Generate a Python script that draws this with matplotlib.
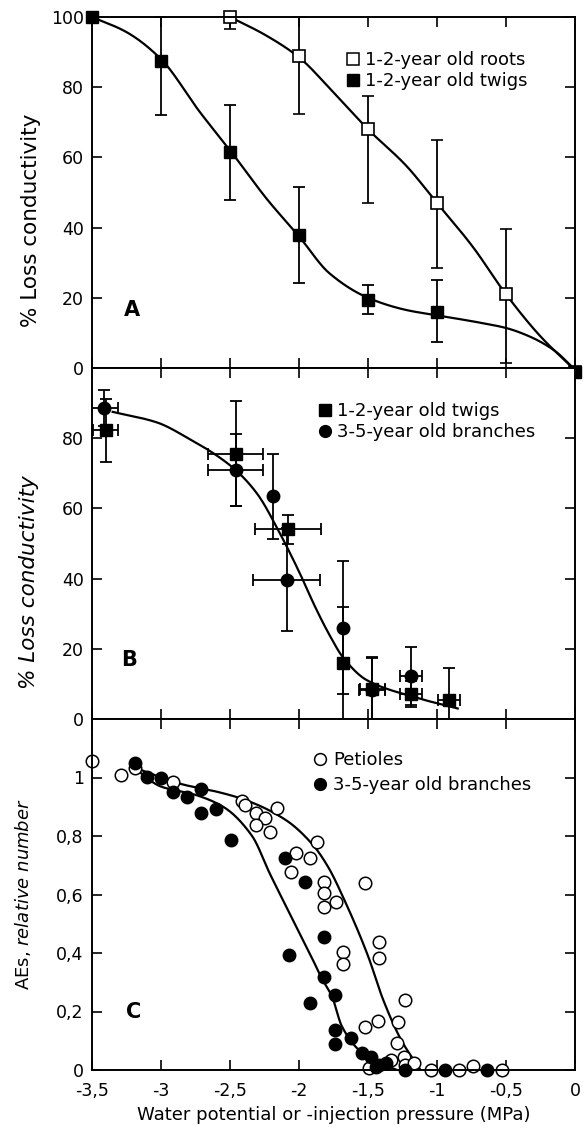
import numpy as np
import matplotlib
matplotlib.use("Agg")
import matplotlib.pyplot as plt
from matplotlib.lines import Line2D

plt.rcParams['font.family'] = ['DejaVu Sans']
plt.rcParams['mathtext.fontset'] = 'dejavusans'

# ---- panel A: 1-2-year old twigs / roots ----
twig_a_x = [-3.5, -3.0, -2.5, -2.0, -1.5, -1.0, 0.0]
twig_a_y = [100, 87.5, 61.5, 38, 19.5, 16, -1]
twig_a_lo = [0, 15.5, 13.5, 13.8, 4.2, 8.7, 0]
twig_a_hi = [0, 12.5, 13.5, 13.6, 4.1, 9.0, 0]

root_a_x = [-2.5, -2.0, -1.5, -1.0, -0.5, 0.0]
root_a_y = [100, 89, 68, 47, 21, -1]
root_a_lo = [3.4, 16.5, 21, 18.5, 19.5, 0]
root_a_hi = [0, 11, 9.5, 18, 18.5, 0]

# fitted curves
twig_fit_x = [-3.5, -3.25, -3.0, -2.72, -2.48, -2.23, -2.0, -1.78, -1.5, -1.22, -1.0, -0.7, -0.5, -0.33, -0.15, 0.0]
twig_fit_y = [100, 95.7, 88, 73, 61, 48, 37.5, 27, 20, 16.5, 15, 13, 11.4, 9, 5, -0.5]
root_fit_x = [-2.5, -2.25, -2.0, -1.75, -1.5, -1.22, -1.0, -0.74, -0.5, -0.25, 0.0]
root_fit_y = [100, 95, 88.5, 78.5, 68, 57.5, 47, 34.5, 21, 9, -0.6]

# ---- panel B: twigs vs branches ----
twig_b_x = [-3.40, -2.46, -2.08, -1.68, -1.47, -1.19, -0.91]
twig_b_y = [82.3, 75.6, 54, 16, 8.5, 7.1, 5.4]
twig_b_yerr = [9, 15, 4, 16, 9, 3.7, 9.2]
twig_b_xerr = [0.09, 0.2, 0.24, 0, 0.09, 0.08, 0.08]

branch_b_x = [-3.41, -2.46, -2.19, -2.09, -1.68, -1.47, -1.19]
branch_b_y = [88.6, 71, 63.4, 39.7, 26, 8.3, 12.3]
branch_b_yerr = [5, 10.3, 12, 14.6, 19, 9.5, 8.3]
branch_b_xerr = [0.1, 0.2, 0, 0.24, 0, 0.095, 0.08]

b_fit_x = [-3.35, -3.03, -2.79, -2.59, -2.45, -2.30, -2.14, -2.0, -1.88, -1.78, -1.68, -1.51, -1.17, -0.85]
b_fit_y = [87.5, 84.5, 79.7, 74.9, 70.6, 64, 53, 42, 31.7, 24, 17.5, 11.1, 6.3, 3.0]

# ---- panel C: acoustic emissions ----
pet_x = [-3.50, -3.29, -3.19, -2.91, -2.41, -2.39, -2.31, -2.25, -2.31, -2.16, -2.21,
         -2.02, -2.06, -1.87, -1.92, -1.82, -1.82, -1.82, -1.73, -1.52, -1.68, -1.68,
         -1.42, -1.42, -1.23, -1.43, -1.52, -1.28, -1.29, -1.24, -1.33, -1.23, -1.17,
         -1.04, -0.84, -0.74, -0.53, -1.49]
pet_y = [1.055, 1.010, 1.031, 0.983, 0.918, 0.905, 0.880, 0.860, 0.839, 0.896, 0.815,
         0.743, 0.678, 0.779, 0.726, 0.642, 0.606, 0.556, 0.575, 0.638, 0.402, 0.362,
         0.438, 0.383, 0.240, 0.166, 0.146, 0.164, 0.092, 0.045, 0.034, 0.017, 0.024,
         0.0, 0.0, 0.014, 0.0, 0.007]

br_x = [-3.19, -3.10, -3.00, -2.91, -2.81, -2.71, -2.71, -2.60, -2.49, -2.10, -1.96,
        -1.82, -2.07, -1.82, -1.74, -1.92, -1.74, -1.74, -1.62, -1.54, -1.48, -1.42,
        -1.37, -1.44, -1.23, -0.94, -0.64]
br_y = [1.051, 1.003, 0.997, 0.952, 0.935, 0.959, 0.880, 0.893, 0.786, 0.726, 0.644,
        0.455, 0.394, 0.317, 0.257, 0.228, 0.136, 0.088, 0.108, 0.057, 0.043, 0.017,
        0.024, 0.010, 0.0, 0.0, 0.0]

pet_fit_x = [-3.2, -2.84, -2.6, -2.4, -2.1, -1.9, -1.79, -1.67, -1.5, -1.39, -1.26, -1.12]
pet_fit_y = [1.035, 0.976, 0.952, 0.925, 0.856, 0.77, 0.695, 0.58, 0.39, 0.24, 0.103, 0.0]
br_fit_x = [-3.2, -3.0, -2.76, -2.55, -2.34, -2.21, -2.03, -1.91, -1.84, -1.76, -1.69, -1.55, -1.41, -1.29]
br_fit_y = [1.035, 0.969, 0.942, 0.90, 0.80, 0.67, 0.50, 0.387, 0.318, 0.25, 0.15, 0.062, 0.024, 0.0]

xticks = [-3.5, -3, -2.5, -2, -1.5, -1, -0.5, 0]
xticklabels = ['-3,5', '-3', '-2,5', '-2', '-1,5', '-1', '-0,5', '0']


def pchip(xk, yk, n=300):
    # monotone cubic through the knots, just to draw the fitted line smoothly
    xk = np.asarray(xk, float)
    yk = np.asarray(yk, float)
    h = np.diff(xk)
    d = np.diff(yk) / h
    m = np.zeros_like(yk)
    m[0], m[-1] = d[0], d[-1]
    for i in range(1, len(xk) - 1):
        if d[i - 1] * d[i] > 0:
            w1 = 2 * h[i] + h[i - 1]
            w2 = h[i] + 2 * h[i - 1]
            m[i] = (w1 + w2) / (w1 / d[i - 1] + w2 / d[i])
    xs = np.linspace(xk[0], xk[-1], n)
    idx = np.clip(np.searchsorted(xk, xs) - 1, 0, len(h) - 1)
    t = (xs - xk[idx]) / h[idx]
    h00 = 2 * t**3 - 3 * t**2 + 1
    h10 = t**3 - 2 * t**2 + t
    h01 = -2 * t**3 + 3 * t**2
    h11 = t**3 - t**2
    ys = h00 * yk[idx] + h10 * h[idx] * m[idx] + h01 * yk[idx + 1] + h11 * h[idx] * m[idx + 1]
    return xs, ys


fig = plt.figure(figsize=(5.85, 11.31), dpi=100)
W, H = 585, 1131
left, right = 92, 575
boxes = [(17, 368), (368, 719), (719, 1070)]
axes = []
for top, bot in boxes:
    ax = fig.add_axes([left / W, 1 - bot / H, (right - left) / W, (bot - top) / H])
    axes.append(ax)

for ax in axes:
    ax.set_xlim(-3.5, 0)
    ax.set_xticks(xticks)
    ax.tick_params(direction='in', length=7, width=1.2, top=True, right=True,
                   labelsize=12.5, pad=6)
    ax.tick_params(axis='x', pad=9)
    for s in ax.spines.values():
        s.set_linewidth(1.4)

eb = dict(ecolor='black', elinewidth=1.3, capsize=4.5, capthick=1.3, ls='none')
leg = dict(loc='upper left', frameon=False, fontsize=13, handlelength=0.6,
           handletextpad=0.4, borderpad=0)

# panel A
axA = axes[0]
axA.plot(*pchip(twig_fit_x, twig_fit_y), color='black', lw=1.6)
axA.plot(*pchip(root_fit_x, root_fit_y), color='black', lw=1.6)
axA.errorbar(root_a_x, root_a_y, yerr=[root_a_lo, root_a_hi], marker='s', ms=8,
             mfc='white', mec='black', mew=1.2, clip_on=False, **eb)
axA.errorbar(twig_a_x, twig_a_y, yerr=[twig_a_lo, twig_a_hi], marker='s', ms=8.5,
             mfc='black', mec='black', clip_on=False, **eb)
axA.set_ylim(0, 100)
axA.set_yticks([0, 20, 40, 60, 80, 100])
axA.set_xticklabels([])
axA.set_ylabel('% Loss conductivity', fontsize=15.5)
axA.yaxis.set_label_coords(-0.105, 0.42)
axA.text(-3.21, 16.5, 'A', fontsize=15, fontweight='bold', ha='center', va='center')
hA = [Line2D([], [], ls='none', marker='s', ms=8, mfc='white', mec='black', mew=1.1),
      Line2D([], [], ls='none', marker='s', ms=8, mfc='black', mec='black')]
axA.legend(hA, ['1-2-year old roots', '1-2-year old twigs'],
           bbox_to_anchor=(0.51, 0.928), labelspacing=0.15, **leg)

# panel B
axB = axes[1]
axB.plot(*pchip(b_fit_x, b_fit_y), color='black', lw=1.6)
axB.errorbar(twig_b_x, twig_b_y, yerr=twig_b_yerr, xerr=twig_b_xerr, marker='s', ms=8.5,
             mfc='black', mec='black', **eb)
axB.errorbar(branch_b_x, branch_b_y, yerr=branch_b_yerr, xerr=branch_b_xerr, marker='o',
             ms=9, mfc='black', mec='black', **eb)
axB.set_ylim(0, 100)
axB.set_yticks([0, 20, 40, 60, 80])
axB.set_xticklabels([])
axB.set_ylabel('% Loss conductivity', fontsize=15.5, style='italic')
axB.yaxis.set_label_coords(-0.11, 0.39)
axB.text(-3.23, 16.9, 'B', fontsize=15, fontweight='bold', ha='center', va='center')
hB = [Line2D([], [], ls='none', marker='s', ms=8, mfc='black', mec='black'),
      Line2D([], [], ls='none', marker='o', ms=8.5, mfc='black', mec='black')]
axB.legend(hB, ['1-2-year old twigs', '3-5-year old branches'],
           bbox_to_anchor=(0.452, 0.928), labelspacing=0.15, **leg)

# panel C
axC = axes[2]
axC.plot(*pchip(pet_fit_x, pet_fit_y), color='black', lw=1.6)
axC.plot(*pchip(br_fit_x, br_fit_y), color='black', lw=1.6)
axC.plot(pet_x, pet_y, ls='none', marker='o', ms=9, mfc='white', mec='black', mew=1.1,
         clip_on=False)
axC.plot(br_x, br_y, ls='none', marker='o', ms=9, mfc='black', mec='black', clip_on=False)
axC.set_ylim(0, 1.2)
axC.set_yticks([0, 0.2, 0.4, 0.6, 0.8, 1])
axC.set_yticklabels(['0', '0,2', '0,4', '0,6', '0,8', '1'])
axC.set_xticklabels(xticklabels)
axC.set_ylabel(r'AEs, $\mathit{relative\ number}$', fontsize=13)
axC.yaxis.set_label_coords(-0.122, 0.5)
axC.set_xlabel('Water potential or -injection pressure (MPa)', fontsize=13, labelpad=4)
axC.text(-3.2, 0.2, 'C', fontsize=15, fontweight='bold', ha='center', va='center')
hC = [Line2D([], [], ls='none', marker='o', ms=8.5, mfc='white', mec='black', mew=1.1),
      Line2D([], [], ls='none', marker='o', ms=8.5, mfc='black', mec='black')]
axC.legend(hC, ['Petioles', '3-5-year old branches'],
           bbox_to_anchor=(0.443, 0.935), labelspacing=0.4, **leg)

fig.savefig('out.png', dpi=100)
